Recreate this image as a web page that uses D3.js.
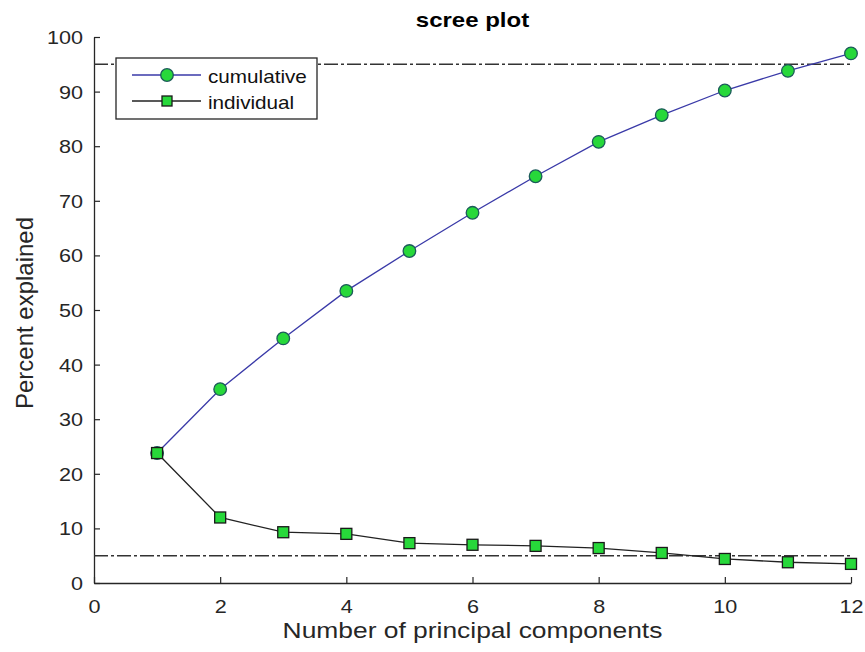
<!DOCTYPE html>
<html>
<head>
<meta charset="utf-8">
<script src="https://cdn.jsdelivr.net/npm/d3@7"></script>
<style>
  body { margin: 0; background: #fff; }
  svg { font-family: "Liberation Sans", Arial, sans-serif; }
</style>
</head>
<body>
<div id="chart"></div>
<script>
// Data
const components = [1, 2, 3, 4, 5, 6, 7, 8, 9, 10, 11, 12];
const cumulative = [23.8, 35.5, 44.8, 53.5, 60.8, 67.8, 74.5, 80.8, 85.7, 90.2, 93.8, 97.0];
const individual = [23.8, 12.0, 9.3, 9.0, 7.3, 7.0, 6.8, 6.4, 5.5, 4.4, 3.8, 3.5];
const thresholds = [95, 5];
const xTicks = [0, 2, 4, 6, 8, 10, 12];
const yTicks = [0, 10, 20, 30, 40, 50, 60, 70, 80, 90, 100];

const W = 865, H = 652;
const margin = {top: 37, right: 14, bottom: 69, left: 94};
const width = W - margin.left - margin.right;
const height = H - margin.top - margin.bottom;

const axisColor = "#262626";
const green = "#27d83a";
const sx = 1.2; // text in the reference is drawn a bit wide

const svg = d3.select("#chart")
  .append("svg")
    .attr("width", W)
    .attr("height", H);

const g = svg.append("g")
  .attr("transform", `translate(${margin.left},${margin.top})`);

const x = d3.scaleLinear().domain([0, 12]).range([0, width]);
const y = d3.scaleLinear().domain([0, 100]).range([height, 0]);

// Axes (left and bottom only, ticks pointing inward)
const xAxis = g.append("g")
  .attr("transform", `translate(0,${height})`)
  .call(d3.axisBottom(x).tickValues(xTicks).tickSizeInner(-6).tickSizeOuter(0).tickPadding(17));
const yAxis = g.append("g")
  .call(d3.axisLeft(y).tickValues(yTicks).tickSizeInner(-6).tickSizeOuter(0));

[xAxis, yAxis].forEach(a => {
  a.selectAll(".domain").attr("stroke", axisColor).attr("stroke-width", 1.3);
  a.selectAll(".tick line").attr("stroke", axisColor).attr("stroke-width", 1.2);
  a.selectAll(".tick text")
    .attr("fill", axisColor)
    .attr("transform", `scale(${sx},1)`)
    .style("font-size", "18px");
});
yAxis.selectAll(".tick text").attr("x", -11 / sx).attr("dy", "0.36em");

// Threshold lines (dash-dot)
g.selectAll(".thresh")
  .data(thresholds)
  .join("line")
    .attr("class", "thresh")
    .attr("x1", x(0))
    .attr("x2", x(12))
    .attr("y1", d => y(d))
    .attr("y2", d => y(d))
    .attr("stroke", "#333")
    .attr("stroke-width", 1.4)
    .attr("stroke-dasharray", "14,3,3,3");

// Lines
const line = (vals) => d3.line()
  .x((d, i) => x(components[i]))
  .y(d => y(d))(vals);

g.append("path")
  .attr("d", line(individual))
  .attr("fill", "none")
  .attr("stroke", "#222")
  .attr("stroke-width", 1.3);

g.append("path")
  .attr("d", line(cumulative))
  .attr("fill", "none")
  .attr("stroke", "#3a3aa8")
  .attr("stroke-width", 1.3);

// Markers
g.selectAll(".cum")
  .data(cumulative)
  .join("circle")
    .attr("class", "cum")
    .attr("cx", (d, i) => x(components[i]))
    .attr("cy", d => y(d))
    .attr("r", 6.3)
    .attr("fill", green)
    .attr("stroke", "#1c5a5a")
    .attr("stroke-width", 1.3);

const sq = 11;
g.selectAll(".ind")
  .data(individual)
  .join("rect")
    .attr("class", "ind")
    .attr("x", (d, i) => x(components[i]) - sq / 2)
    .attr("y", d => y(d) - sq / 2)
    .attr("width", sq)
    .attr("height", sq)
    .attr("fill", green)
    .attr("stroke", "#1a1a1a")
    .attr("stroke-width", 1.3);

// Title
svg.append("text")
  .attr("transform", `translate(${margin.left + width / 2},27) scale(${sx},1)`)
  .attr("text-anchor", "middle")
  .attr("fill", "#000")
  .style("font-size", "20px")
  .style("font-weight", "bold")
  .text("scree plot");

// Axis labels
svg.append("text")
  .attr("transform", `translate(${margin.left + width / 2},638) scale(${sx},1)`)
  .attr("text-anchor", "middle")
  .attr("fill", axisColor)
  .style("font-size", "22px")
  .text("Number of principal components");

svg.append("text")
  .attr("transform", `translate(33,${margin.top + height / 2 + 3}) rotate(-90)`)
  .attr("text-anchor", "middle")
  .attr("fill", axisColor)
  .style("font-size", "24px")
  .text("Percent explained");

// Legend
const legend = svg.append("g").attr("transform", "translate(116,58)");
legend.append("rect")
  .attr("width", 201)
  .attr("height", 61)
  .attr("fill", "#fff")
  .attr("stroke", axisColor)
  .attr("stroke-width", 1.3);

const legendItems = [
  {name: "cumulative", stroke: "#3a3aa8", marker: "circle", edge: "#1c5a5a", y: 17},
  {name: "individual", stroke: "#222", marker: "square", edge: "#1a1a1a", y: 43}
];
const li = legend.selectAll(".li")
  .data(legendItems)
  .join("g")
    .attr("class", "li")
    .attr("transform", d => `translate(0,${d.y})`);
li.append("line")
  .attr("x1", 16).attr("x2", 85)
  .attr("stroke", d => d.stroke)
  .attr("stroke-width", 1.3);
li.filter(d => d.marker === "circle").append("circle")
  .attr("cx", 51).attr("r", 6.3)
  .attr("fill", green).attr("stroke", d => d.edge).attr("stroke-width", 1.3);
li.filter(d => d.marker === "square").append("rect")
  .attr("x", 51 - 5).attr("y", -5).attr("width", 10).attr("height", 10)
  .attr("fill", green).attr("stroke", d => d.edge).attr("stroke-width", 1.3);
li.append("text")
  .attr("transform", `translate(92,8) scale(1.15,1)`)
  .attr("fill", "#111")
  .style("font-size", "18px")
  .text(d => d.name);
</script>
</body>
</html>
